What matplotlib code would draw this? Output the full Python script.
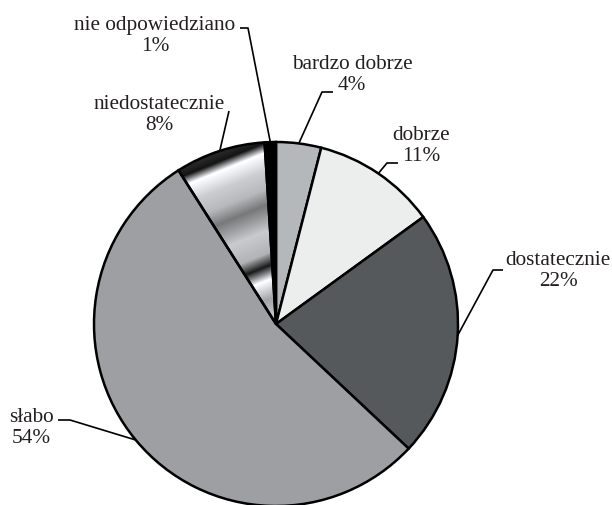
import numpy as np
import matplotlib
matplotlib.use("Agg")
import matplotlib.pyplot as plt

# ---- data ----
categories = ["bardzo dobrze", "dobrze", "dostatecznie", "słabo", "niedostatecznie", "nie odpowiedziano"]
values = [4, 11, 22, 54, 8, 1]
pct_labels = ["4%", "11%", "22%", "54%", "8%", "1%"]
colors = ["#b5b8bb", "#eceeed", "#55595c", "#9d9fa3", "#c0c2c5", "#000000"]

W, H = 612, 505
fig = plt.figure(figsize=(W / 100, H / 100), dpi=100)
ax = fig.add_axes([0, 0, 1, 1])

cx, cy_img, R = 276, 324, 182
cy = H - cy_img

wedges, _ = ax.pie(values, colors=colors, startangle=90, counterclock=False,
                   center=(cx, cy), radius=R,
                   wedgeprops=dict(edgecolor="black", linewidth=1.8))

# metallic gradient for "niedostatecznie"
gx, gy = np.meshgrid(np.arange(W) + 0.5, np.arange(H) + 0.5)
t = 0.375 * gx + 0.927 * gy
stops_t = [200, 225, 232, 241, 258, 275, 290, 300, 314, 335, 347, 353, 360, 378, 392, 410]
stops_g = [0.2, 0.15, 0.08, 1.0, 0.80, 0.72, 0.47, 0.60, 0.79, 0.70, 0.10, 0.50, 1.0, 0.64, 0.75, 0.85]
g = np.interp(t, stops_t, stops_g)
rgb = np.dstack([g, g * 1.005, np.clip(g * 1.02, 0, 1)])
im = ax.imshow(rgb, extent=(0, W, 0, H), origin="upper", zorder=0.5, interpolation="bilinear")
im.set_clip_path(wedges[4])
wedges[4].set_facecolor("none")

# ---- labels & leaders (layout) ----
label_pos = [(352, 75), (421, 146), (558, 271), (31, 428), (159, 115), (155, 36)]
elbows = [
    [(333, 92), (322, 92)],
    [(398, 163), (387, 163)],
    [(503, 270), (493, 270)],
    [(58, 420), (70, 420)],
    [(229, 111)],
    [(240, 28), (248, 28)],
]

for i, w in enumerate(wedges):
    mid = np.deg2rad((w.theta1 + w.theta2) / 2)
    ex, ey = cx + R * np.cos(mid), cy + R * np.sin(mid)
    pts = [(x, H - y) for x, y in elbows[i]] + [(ex, ey)]
    xs, ys = zip(*pts)
    ax.plot(xs, ys, color="black", lw=1.2, zorder=3, solid_capstyle="butt")
    lx, ly = label_pos[i]
    ax.text(lx, H - ly, f"{categories[i]}\n{pct_labels[i]}", ha="center", va="center",
            multialignment="center", fontsize=15.3, family=["Liberation Serif", "DejaVu Serif"],
            color="#231f20", linespacing=1.2, zorder=4)

ax.set_xlim(0, W)
ax.set_ylim(0, H)
ax.set_aspect("auto")
ax.axis("off")
fig.savefig("out.png", dpi=100)
